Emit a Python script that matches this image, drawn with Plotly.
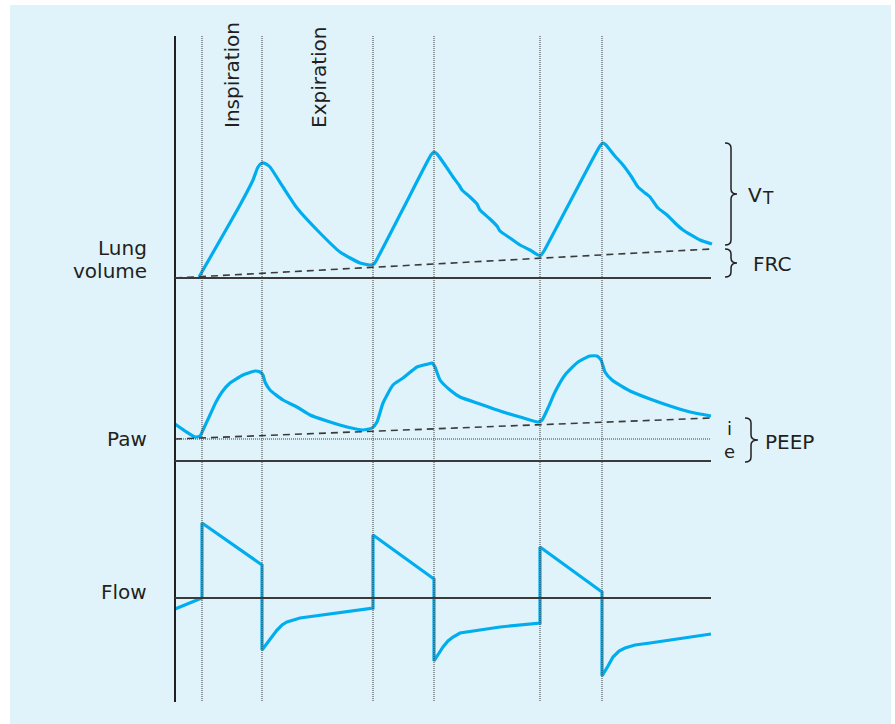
import plotly.graph_objects as go

# ---------------- data (time in arbitrary units, signals in arbitrary units) -------------
phase_times = [202, 262, 373, 434, 540, 602]      # inspiration / expiration boundaries
t_start, t_end = 175, 711

vol_t = [199, 240, 253, 258, 262, 266, 270, 283, 297, 320, 340, 360, 370, 374,
         376, 405, 431, 434, 437, 445, 453, 459, 462, 470, 477, 480, 490, 497, 500,
         510, 520, 530, 538, 541, 544, 571, 600, 603, 606, 614, 623, 631, 638, 645,
         650, 658, 667, 675, 683, 700, 712]
vol_v = [1, 73, 98, 111, 115, 114, 111, 91, 70, 45, 26, 15, 13, 14,
         17, 73, 123, 126, 124, 113, 101, 93, 88, 81, 74, 68, 59, 52, 47,
         40, 33, 28, 23, 23, 27, 78, 132, 135, 133, 123, 113, 102, 91, 85,
         81, 70, 63, 55, 48, 38, 34]
frc_t = [175, 711]
frc_v = [0, 29]

paw_t = [175, 185, 195, 200, 203, 210, 216, 222, 230, 243, 255, 260, 263, 265, 270,
         283, 297, 310, 327, 347, 363, 372, 377, 383, 393, 403, 417, 428, 432, 435,
         440, 450, 460, 480, 500, 520, 538, 542, 548, 555, 565, 578, 590, 597, 601,
         605, 612, 630, 650, 670, 690, 711]
paw_v = [37, 30, 24, 25, 31, 46, 59, 69, 78, 86, 90, 89, 86, 79, 71,
         61, 54, 46, 40, 34, 31, 33, 39, 58, 76, 83, 94, 97, 98, 94,
         81, 71, 64, 57, 50, 44, 39, 41, 53, 69, 86, 99, 105, 105, 101,
         89, 81, 70, 62, 55, 49, 45]
peep_i_t = [175, 711]
peep_i_v = [22, 43]
peep_e_v = 22

flow_t = [175, 202, 202, 262, 262, 267, 272, 277, 282, 287, 300, 373,
          373, 434, 434, 439, 443, 448, 453, 460, 500, 540,
          540, 602, 602, 608, 613, 619, 625, 635, 650, 711]
flow_v = [-11, 0, 75, 33, -52, -45, -38, -32, -27, -24, -20, -10,
          63, 19, -63, -55, -49, -43, -39, -35, -29, -25,
          51, 6, -78, -68, -59, -53, -50, -47, -45, -36]

# ---------------- styling -------------
W, H = 895, 724
BLUE = "#00aeef"
DARK = "#231f20"
GREY = "#3a3a3a"
FONT = "DejaVu Sans"

fig = go.Figure()

# signal axes: zero lines sit at pixel rows 278 / 461 / 598
vol_zero, paw_zero, flow_zero = 278, 461, 598

fig.add_trace(go.Scatter(x=vol_t, y=vol_v, yaxis="y2", mode="lines",
                         line=dict(color=BLUE, width=3.2, shape="spline", smoothing=0.5),
                         hoverinfo="skip"))
fig.add_trace(go.Scatter(x=frc_t, y=frc_v, yaxis="y2", mode="lines",
                         line=dict(color=GREY, width=1.6, dash="7px,5px"), hoverinfo="skip"))
fig.add_trace(go.Scatter(x=paw_t, y=paw_v, yaxis="y3", mode="lines",
                         line=dict(color=BLUE, width=3.2, shape="spline", smoothing=0.5),
                         hoverinfo="skip"))
fig.add_trace(go.Scatter(x=peep_i_t, y=peep_i_v, yaxis="y3", mode="lines",
                         line=dict(color=GREY, width=1.6, dash="7px,5px"), hoverinfo="skip"))
fig.add_trace(go.Scatter(x=[t_start, t_end], y=[peep_e_v, peep_e_v], yaxis="y3", mode="lines",
                         line=dict(color=GREY, width=1, dash="1px,1px"), hoverinfo="skip"))
fig.add_trace(go.Scatter(x=flow_t, y=flow_v, yaxis="y4", mode="lines",
                         line=dict(color=BLUE, width=3.2), hoverinfo="skip"))

shapes = []
# background panel
shapes.append(dict(type="rect", xref="x", yref="y", x0=10, x1=891, y0=5, y1=H,
                   fillcolor="#e0f3fa", line=dict(width=0), layer="below"))
# vertical main axis
shapes.append(dict(type="line", xref="x", yref="y", x0=t_start, x1=t_start, y0=36, y1=702,
                   line=dict(color=DARK, width=2)))
# phase boundaries
for pt in phase_times:
    shapes.append(dict(type="line", xref="x", yref="y", x0=pt, x1=pt, y0=36, y1=702,
                       line=dict(color=GREY, width=1, dash="1px,1px")))
# baselines
for ya in ["y2", "y3", "y4"]:
    shapes.append(dict(type="line", xref="x", yref=ya, x0=t_start, x1=t_end, y0=0, y1=0,
                       line=dict(color="#3a3a3a", width=2)))


def brace(x0, x1, x2, ytop, ybot, r=5):
    ym = (ytop + ybot) / 2
    return (f"M {x0},{ytop} Q {x1},{ytop} {x1},{ytop + r} L {x1},{ym - r} "
            f"Q {x1},{ym} {x2},{ym} Q {x1},{ym} {x1},{ym + r} L {x1},{ybot - r} "
            f"Q {x1},{ybot} {x0},{ybot}")


for b in [(725, 731, 737, 143, 245), (725, 731, 737, 249, 277), (745, 751, 758, 418, 462)]:
    shapes.append(dict(type="path", xref="x", yref="y", path=brace(*b),
                       line=dict(color=DARK, width=1.5)))

ann = []


def txt(x, y, s, size=20, xanchor="center", angle=0):
    ann.append(dict(x=x, y=y, xref="x", yref="y", text=s, showarrow=False,
                    xanchor=xanchor, yanchor="middle", textangle=angle,
                    font=dict(family=FONT, size=size, color=DARK)))


txt(149, 248, "Lung", xanchor="right")
txt(149, 271, "volume", xanchor="right")
txt(149, 439, "Paw", xanchor="right")
txt(149, 592, "Flow", xanchor="right")
txt(232, 75, "Inspiration", angle=-90)
txt(319, 77, "Expiration", angle=-90)
txt(755, 195, "V")
txt(768, 198, "T", size=17)
txt(772, 264, "FRC")
txt(789, 442, "PEEP")
txt(729, 440, "i<br>e", size=18)

fig.update_layout(
    width=W, height=H, margin=dict(l=0, r=0, t=0, b=0),
    paper_bgcolor="white", plot_bgcolor="rgba(0,0,0,0)", showlegend=False,
    xaxis=dict(range=[0, W], visible=False, fixedrange=True),
    yaxis=dict(range=[H, 0], visible=False, fixedrange=True),
    yaxis2=dict(range=[vol_zero - H, vol_zero], overlaying="y", visible=False, fixedrange=True),
    yaxis3=dict(range=[paw_zero - H, paw_zero], overlaying="y", visible=False, fixedrange=True),
    yaxis4=dict(range=[flow_zero - H, flow_zero], overlaying="y", visible=False, fixedrange=True),
    shapes=shapes, annotations=ann,
)

fig.write_html("out.html", config={"displayModeBar": False},
               post_script="document.body.style.margin='0';document.body.style.overflow='hidden';")
